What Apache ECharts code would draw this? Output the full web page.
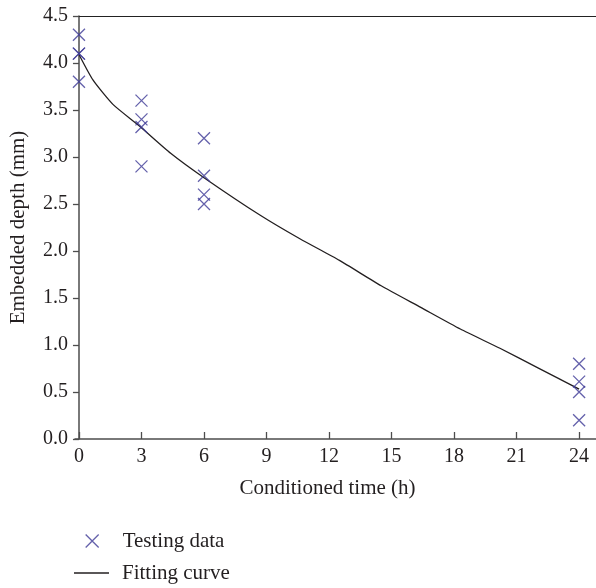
<!DOCTYPE html>
<html>
<head>
<meta charset="utf-8">
<script src="https://cdn.jsdelivr.net/npm/echarts@6/dist/echarts.min.js"></script>
<style>
html,body{margin:0;padding:0;background:#fff;}
#chart{width:596px;height:588px;}
</style>
</head>
<body>
<div id="chart"></div>
<script>
// Testing data (conditioned time in h, embedded depth in mm)
var testTimes  = [0, 0, 0, 0, 3, 3, 3, 3, 6, 6, 6, 6, 24, 24, 24, 24];
var testDepths = [4.3, 4.1, 4.1, 3.8, 3.6, 3.4, 3.32, 2.9, 3.2, 2.8, 2.6, 2.5, 0.8, 0.61, 0.5, 0.2];
// Fitting curve
var curveTimes  = [0, 0.67, 1.63, 2.9, 4.4, 6, 8.7, 10.6, 12.5, 14.5, 16.4, 18.3, 20.2, 22, 24];
var curveDepths = [4.09, 3.82, 3.56, 3.33, 3.04, 2.78, 2.38, 2.13, 1.90, 1.63, 1.40, 1.17, 0.965, 0.76, 0.53];
var xTicks = [0, 3, 6, 9, 12, 15, 18, 21, 24];
var seriesNames = ['Testing data', 'Fitting curve'];

var FONT = 'Liberation Serif';
var TEXT = '#231f20';
var MARK = '#3d3a96';
var xMark = 'path://M0,0L10,10M10,0L0,10';

var chart = echarts.init(document.getElementById('chart'));
var scatterData = testTimes.map(function (t, i) { return [t, testDepths[i]]; });
var curveData = curveTimes.map(function (t, i) { return [t, curveDepths[i]]; });

function legendText(padLeft) {
  return { fontFamily: FONT, fontSize: 21, color: TEXT, lineHeight: 22, padding: [0, 0, 0, padLeft] };
}

chart.setOption({
  animation: false,
  backgroundColor: '#fff',
  grid: { left: 74, right: 0, top: 16, bottom: 149, containLabel: false },
  legend: [{
    orient: 'vertical',
    left: 85,
    top: 530,
    padding: 0,
    itemWidth: 35,
    itemHeight: 13,
    textStyle: legendText(8),
    data: [{ name: seriesNames[0], icon: xMark, itemStyle: { color: 'transparent', borderColor: MARK, borderWidth: 1.3 } }]
  }, {
    orient: 'vertical',
    left: 74,
    top: 562,
    padding: 0,
    itemWidth: 35,
    itemHeight: 1.4,
    textStyle: legendText(8),
    data: [{ name: seriesNames[1], icon: 'rect', itemStyle: { color: TEXT, borderWidth: 0 } }]
  }],
  xAxis: [{
    type: 'value',
    min: -0.19,
    max: 24.81,
    name: 'Conditioned time (h)',
    nameLocation: 'middle',
    nameGap: 39,
    nameTextStyle: { fontFamily: FONT, fontSize: 21, color: TEXT, padding: [0, 16, 0, 0] },
    axisLine: { show: true, lineStyle: { color: '#4d4d4d', width: 1.5 } },
    axisTick: { show: true, inside: true, length: 7, customValues: xTicks, lineStyle: { color: '#4d4d4d', width: 1.3 } },
    axisLabel: { customValues: xTicks, fontFamily: FONT, fontSize: 20, color: TEXT, margin: 8 },
    splitLine: { show: false }
  }, {
    type: 'value',
    position: 'top',
    min: -0.19,
    max: 24.81,
    axisLine: { show: true, onZero: false, lineStyle: { color: '#222', width: 1.2 } },
    axisTick: { show: false },
    axisLabel: { show: false },
    splitLine: { show: false }
  }],
  yAxis: {
    type: 'value',
    min: 0,
    max: 4.5,
    interval: 0.5,
    name: 'Embedded depth (mm)',
    nameLocation: 'middle',
    nameGap: 46,
    nameTextStyle: { fontFamily: FONT, fontSize: 21, color: TEXT },
    axisLine: { show: true, lineStyle: { color: '#4d4d4d', width: 1.5 } },
    axisTick: { show: true, inside: false, length: 6, lineStyle: { color: '#4d4d4d', width: 1.3 } },
    axisLabel: {
      fontFamily: FONT, fontSize: 20, color: TEXT, margin: 7,
      formatter: function (v) { return v.toFixed(1); }
    },
    splitLine: { show: false }
  },
  series: [{
    name: seriesNames[0],
    type: 'scatter',
    symbol: xMark,
    symbolSize: 12,
    itemStyle: { color: 'transparent', borderColor: MARK, borderWidth: 1.3 },
    data: scatterData,
    z: 3
  }, {
    name: seriesNames[1],
    type: 'line',
    smooth: 0.2,
    symbol: 'none',
    lineStyle: { color: TEXT, width: 1.3 },
    itemStyle: { color: TEXT },
    data: curveData,
    z: 2
  }]
});
</script>
</body>
</html>
